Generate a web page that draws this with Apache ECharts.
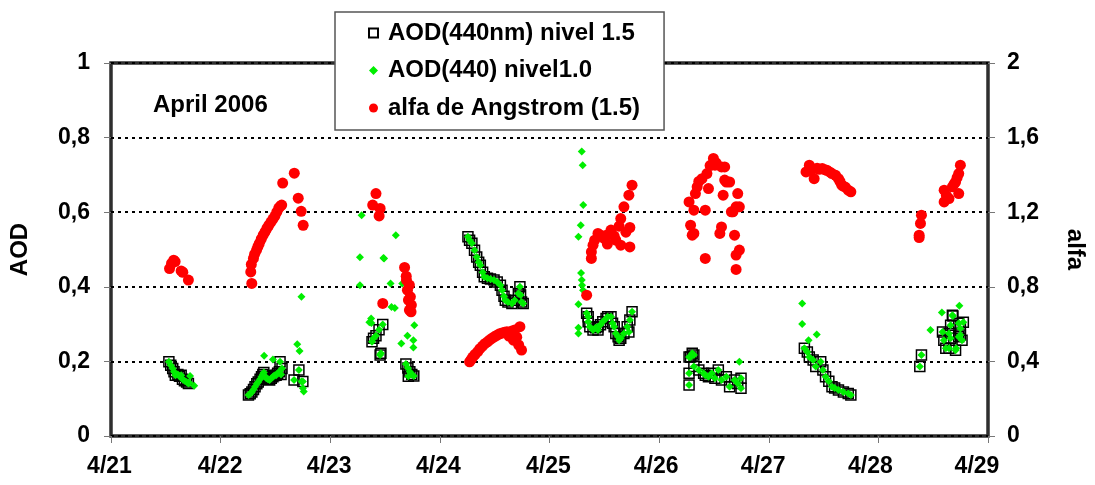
<!DOCTYPE html>
<html>
<head>
<meta charset="utf-8">
<script src="https://cdn.jsdelivr.net/npm/echarts@6/dist/echarts.min.js"></script>
<style>
html,body{margin:0;padding:0;background:#fff;}
#c{width:1095px;height:485px;}
</style>
</head>
<body>
<div id="c"></div>
<script>
// ---- data (x = day of April 2006, fractional) ----
const xTickDays = [21, 22, 23, 24, 25, 26, 27, 28, 29];
const leftTicks = [0, 0.2, 0.4, 0.6, 0.8, 1];
const rightTicks = [0, 0.4, 0.8, 1.2, 1.6, 2];
const seriesNames = ['AOD(440nm) nivel 1.5', 'AOD(440) nivel1.0', 'alfa de Angstrom (1.5)'];

// AOD 440 nm, level 1.5 (squares)
const aod15 = [
 [21.528,0.199],[21.545,0.190],[21.563,0.181],[21.575,0.172],[21.587,0.163],[21.610,0.165],[21.625,0.160],[21.640,0.163],[21.652,0.152],[21.670,0.148],[21.690,0.145],[21.706,0.141],
 [22.254,0.110],[22.270,0.113],[22.285,0.118],[22.300,0.125],[22.314,0.132],[22.330,0.140],[22.343,0.145],[22.360,0.152],[22.373,0.159],[22.385,0.165],[22.394,0.170],[22.405,0.160],[22.417,0.155],[22.432,0.152],[22.447,0.150],[22.462,0.155],[22.477,0.159],[22.490,0.162],[22.506,0.163],[22.520,0.168],[22.536,0.172],[22.542,0.199],[22.551,0.165],[22.560,0.181],
 [22.670,0.150],[22.714,0.177],[22.750,0.146],
 [23.381,0.253],[23.395,0.262],[23.417,0.269],[23.445,0.285],[23.479,0.299],[23.455,0.217],[23.462,0.222],
 [23.690,0.193],[23.708,0.182],[23.726,0.172],[23.744,0.165],[23.762,0.161],[23.712,0.160],
 [24.256,0.534],[24.271,0.525],[24.292,0.517],[24.316,0.498],[24.336,0.480],[24.354,0.466],[24.369,0.458],[24.390,0.439],[24.405,0.427],[24.434,0.423],[24.461,0.421],[24.494,0.418],[24.523,0.413],[24.552,0.404],[24.567,0.391],[24.585,0.375],[24.597,0.364],[24.621,0.359],[24.657,0.355],[24.683,0.364],[24.716,0.382],[24.730,0.400],[24.736,0.378],[24.745,0.359],[24.760,0.355],
 [25.339,0.329],[25.353,0.306],[25.353,0.320],[25.368,0.293],[25.397,0.284],[25.420,0.290],[25.442,0.284],[25.442,0.293],[25.465,0.298],[25.486,0.306],[25.516,0.315],[25.531,0.320],[25.561,0.320],[25.575,0.302],[25.590,0.293],[25.605,0.275],[25.626,0.266],[25.635,0.257],[25.650,0.262],[25.679,0.275],[25.709,0.293],[25.724,0.279],[25.733,0.311],[25.753,0.333],
 [26.273,0.212],[26.273,0.168],[26.273,0.137],[26.287,0.212],[26.302,0.222],[26.317,0.217],[26.317,0.186],[26.362,0.177],[26.406,0.168],[26.421,0.163],[26.450,0.159],[26.480,0.168],[26.509,0.155],[26.540,0.177],[26.569,0.150],[26.613,0.159],[26.643,0.132],[26.688,0.150],[26.717,0.141],[26.747,0.155],[26.747,0.128],
 [27.325,0.235],[27.352,0.225],[27.370,0.212],[27.405,0.204],[27.429,0.186],[27.474,0.199],[27.494,0.177],[27.518,0.159],[27.548,0.147],[27.577,0.132],[27.601,0.129],[27.636,0.123],[27.681,0.118],[27.725,0.114],[27.749,0.110],
 [28.378,0.186],[28.393,0.217],[28.585,0.279],[28.597,0.257],[28.615,0.235],[28.644,0.235],[28.644,0.275],[28.659,0.262],[28.659,0.297],[28.675,0.324],[28.680,0.322],[28.704,0.230],[28.733,0.266],[28.733,0.302],[28.748,0.271],[28.748,0.288],[28.763,0.257],[28.775,0.305]
];

// AOD 440, level 1.0 points that are not in level 1.5
const aod10Extra = [
 [21.714,0.143],[21.721,0.161],[21.759,0.135],
 [22.397,0.215],[22.477,0.205],
 [22.699,0.246],[22.720,0.228],[22.737,0.373],[22.737,0.146],[22.750,0.128],[22.758,0.119],
 [23.271,0.479],[23.271,0.404],[23.286,0.592],[23.357,0.305],[23.373,0.315],[23.375,0.303],[23.485,0.477],[23.491,0.476],[23.550,0.409],[23.559,0.346],[23.589,0.343],[23.598,0.538],[23.648,0.248],[23.657,0.409],[23.704,0.269],[23.758,0.257],[23.758,0.237],[23.767,0.297],
 [25.264,0.534],[25.264,0.353],[25.264,0.290],[25.264,0.275],[25.285,0.565],[25.288,0.437],[25.294,0.763],[25.294,0.418],[25.297,0.404],[25.303,0.726],[25.306,0.391],[25.308,0.619],
 [26.732,0.199],
 [27.305,0.355],[27.305,0.300],[27.363,0.257],[27.438,0.272],
 [28.475,0.284],[28.579,0.331],[28.739,0.349],[28.710,0.235]
];

// Angstrom exponent (right axis)
const alfa = [
 [21.534,0.898],[21.552,0.925],[21.572,0.943],[21.585,0.935],[21.640,0.885],[21.655,0.878],[21.706,0.836],
 [22.284,0.818],[22.275,0.880],[22.280,0.920],[22.299,0.952],[22.310,0.975],[22.328,0.997],[22.340,1.015],[22.352,1.032],[22.370,1.055],[22.388,1.077],[22.405,1.095],[22.423,1.114],[22.440,1.130],[22.459,1.147],[22.477,1.163],[22.495,1.179],[22.512,1.200],[22.530,1.222],[22.545,1.232],[22.557,1.238],[22.566,1.356],[22.672,1.409],[22.708,1.275],[22.735,1.205],[22.753,1.130],
 [23.387,1.238],[23.417,1.300],[23.455,1.220],[23.446,1.180],[23.479,0.711],[23.678,0.904],[23.693,0.857],[23.695,0.836],[23.722,0.809],[23.704,0.782],[23.731,0.746],[23.713,0.729],[23.740,0.702],[23.722,0.675],[23.737,0.666],
 [24.271,0.398],[24.285,0.410],[24.300,0.423],[24.320,0.437],[24.345,0.452],[24.365,0.468],[24.389,0.482],[24.410,0.495],[24.434,0.505],[24.455,0.515],[24.478,0.525],[24.500,0.533],[24.523,0.541],[24.545,0.548],[24.567,0.552],[24.590,0.556],[24.612,0.559],[24.630,0.536],[24.657,0.563],[24.671,0.514],[24.683,0.568],[24.701,0.530],[24.719,0.488],[24.730,0.586],[24.745,0.461],
 [25.339,0.755],[25.382,0.987],[25.382,0.952],[25.397,1.023],[25.412,1.050],[25.442,1.086],[25.466,1.077],[25.501,1.059],[25.519,1.077],[25.528,1.029],[25.561,1.104],[25.590,1.072],[25.605,1.050],[25.635,1.125],[25.650,1.166],[25.650,1.023],[25.679,1.229],[25.697,1.093],[25.724,1.291],[25.733,1.118],[25.733,1.014],[25.753,1.345],
 [26.273,1.255],[26.287,1.130],[26.302,1.077],[26.317,1.211],[26.317,1.086],[26.331,1.300],[26.347,1.336],[26.362,1.365],[26.391,1.380],[26.421,1.211],[26.421,0.952],[26.436,1.407],[26.450,1.327],[26.465,1.450],[26.495,1.488],[26.509,1.452],[26.520,1.465],[26.554,1.086],[26.569,1.121],[26.569,1.443],[26.584,1.291],[26.598,1.443],[26.598,1.372],[26.613,1.362],[26.643,1.362],[26.659,1.202],[26.673,1.202],[26.688,1.077],[26.702,1.229],[26.702,0.970],[26.702,0.893],[26.717,1.300],[26.732,0.997],[26.732,1.229],
 [27.340,1.416],[27.370,1.452],[27.388,1.425],[27.414,1.380],[27.441,1.436],[27.460,1.430],[27.488,1.434],[27.510,1.428],[27.530,1.425],[27.555,1.416],[27.577,1.407],[27.610,1.398],[27.636,1.380],[27.650,1.365],[27.666,1.345],[27.680,1.340],[27.699,1.334],[27.725,1.318],[27.749,1.309],
 [28.372,1.064],[28.372,1.077],[28.384,1.140],[28.393,1.184],[28.600,1.255],[28.600,1.318],[28.620,1.290],[28.644,1.273],[28.675,1.336],[28.690,1.350],[28.704,1.362],[28.718,1.385],[28.733,1.300],[28.733,1.407],[28.748,1.452]
];

// ---- chart ----
const FONT = '"Liberation Sans", Arial, sans-serif';
const labelShift = {21:1.5, 22:0.5, 23:1, 24:1.3, 25:1.2, 26:3, 27:5.7, 28:8.1, 29:11.1};
const rich = {};
xTickDays.forEach(d => {
  rich['s' + d] = {fontFamily: FONT, fontWeight: 'bold', fontSize: 23, color: '#000',
                   padding: [0, Math.round(2 * labelShift[d]), 0, 0]};
});
const comma = v => String(+v.toFixed(1)).replace('.', ',');

const chart = echarts.init(document.getElementById('c'));
chart.setOption({
  animation: false,
  backgroundColor: '#fff',
  textStyle: {fontFamily: FONT},
  grid: {left: 104, right: 92, top: 63, bottom: 49, show: true,
         borderColor: '#2e2e2e', borderWidth: 3.5, backgroundColor: '#fff'},
  legend: {
    data: seriesNames,
    orient: 'vertical', left: 335, top: 12,
    backgroundColor: '#fff', borderColor: '#555', borderWidth: 1.5,
    padding: [8, 24, 9, 33], itemGap: 11.5, itemWidth: 9, itemHeight: 9,
    textStyle: {fontFamily: FONT, fontWeight: 'bold', fontSize: 24, color: '#000',
                lineHeight: 26, padding: [0, 0, 0, 5]},
    z: 10
  },
  xAxis: {
    type: 'value', min: xTickDays[0], max: xTickDays[xTickDays.length - 1], interval: 1,
    axisLine: {show: false},
    axisTick: {show: true, length: 7, lineStyle: {color: '#777', width: 1}},
    splitLine: {show: false},
    axisLabel: {margin: 19, formatter: v => '{s' + Math.round(v) + '|4/' + Math.round(v) + '}', rich: rich}
  },
  yAxis: [{
    type: 'value', min: leftTicks[0], max: leftTicks[leftTicks.length - 1], interval: 0.2,
    name: 'AOD', nameLocation: 'middle', nameGap: 79, nameRotate: 90,
    nameTextStyle: {fontFamily: FONT, fontWeight: 'bold', fontSize: 24, color: '#000'},
    axisLine: {show: false},
    axisTick: {show: true, length: 7, lineStyle: {color: '#777', width: 1}},
    splitLine: {show: true, lineStyle: {color: '#000', width: 2, type: [3, 4]}},
    axisLabel: {margin: 21, formatter: comma, fontFamily: FONT, fontWeight: 'bold', fontSize: 23, color: '#000'}
  }, {
    type: 'value', min: rightTicks[0], max: rightTicks[rightTicks.length - 1], interval: 0.4,
    position: 'right',
    name: 'alfa', nameLocation: 'middle', nameGap: 75, nameRotate: -90,
    nameTextStyle: {fontFamily: FONT, fontWeight: 'bold', fontSize: 24, color: '#000'},
    axisLine: {show: false},
    axisTick: {show: true, length: 7, lineStyle: {color: '#777', width: 1}},
    splitLine: {show: false},
    axisLabel: {margin: 19, formatter: comma, fontFamily: FONT, fontWeight: 'bold', fontSize: 23, color: '#000'}
  }],
  graphic: [{
    type: 'text', left: 153, top: 93, z: 5,
    style: {text: 'April 2006', font: 'bold 24px ' + FONT, fill: '#000'}
  }],
  series: [{
    name: seriesNames[0], type: 'scatter', yAxisIndex: 0, data: aod15,
    symbol: 'rect', symbolSize: 10,
    itemStyle: {color: 'rgba(255,255,255,0)', borderColor: '#000', borderWidth: 1.5, opacity: 1},
    z: 2
  }, {
    name: seriesNames[1], type: 'scatter', yAxisIndex: 0, data: aod15.concat(aod10Extra),
    symbol: 'diamond', symbolSize: 8,
    itemStyle: {color: '#00ee00', opacity: 1},
    z: 3
  }, {
    name: seriesNames[2], type: 'scatter', yAxisIndex: 1, data: alfa,
    symbol: 'circle', symbolSize: 11,
    itemStyle: {color: '#ff0000', opacity: 1},
    z: 4
  }]
});
</script>
</body>
</html>
